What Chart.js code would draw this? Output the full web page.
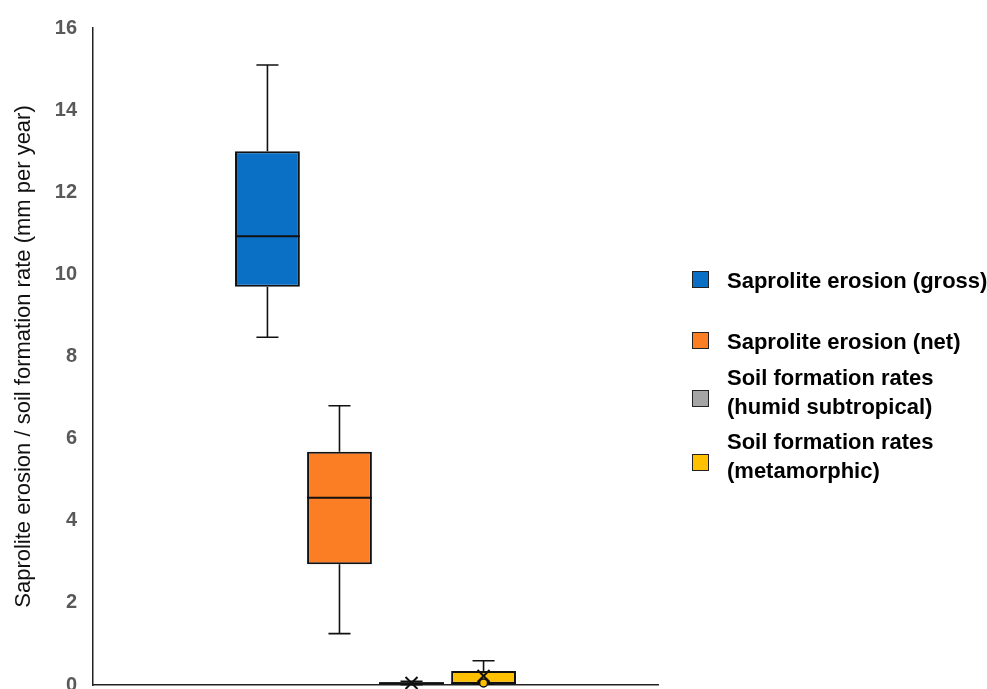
<!DOCTYPE html>
<html>
<head>
<meta charset="utf-8">
<script src="https://cdn.jsdelivr.net/npm/chart.js@4.4.1/dist/chart.umd.min.js"></script>
<style>
	html, body { margin: 0; padding: 0; background: #fff; overflow: hidden; }
	#wrap { position: relative; width: 987px; height: 689px; overflow: hidden; }
	#box { position: absolute; left: 0; top: 0; width: 987px; height: 713px; }
	.entry { position: absolute; left: 692px; font: bold 22px "Liberation Sans", Arial, sans-serif; color: #000; line-height: 28.5px; }
	.swatch { position: absolute; left: 0; width: 15px; height: 15px; border: 1.5px solid #222; }
	.text { position: absolute; left: 35px; white-space: nowrap; }
</style>
</head>
<body>
<div id="wrap">
	<div id="box"><canvas id="chart"></canvas></div>
	<div id="legend"></div>
</div>
<script>
// DATA ====================================================

const seriesLabels = [
	["Saprolite erosion (gross)"],
	["Saprolite erosion (net)"],
	["Soil formation rates", "(humid subtropical)"],
	["Soil formation rates", "(metamorphic)"],
];
const seriesColours = ["#0a70c6", "#fb7e24", "#a5a5a5", "#ffc000"];

const whiskerLow = [8.47, 1.25, 0.01, 0.02];
const quartile1 = [9.7, 2.94, 0.02, 0.03];
const medians = [10.93, 4.56, 0.04, 0.04];
const quartile3 = [13.0, 5.68, 0.07, 0.34];
const whiskerHigh = [15.1, 6.8, 0.09, 0.59];
const means = [null, null, 0.05, 0.22];
const innerPoints = [[], [], [], [0.05]];

const yMin = 0;
const yMax = 16;
const yStep = 2;
const yTitle = "Saprolite erosion / soil formation rate (mm per year)";

// legend row tops (layout only)
const legendTops = [267, 328, 364, 428];

// PLUGIN ==================================================

const boxDetails = {
	id: "boxDetails",
	afterDatasetsDraw(chart) {
		const ctx = chart.ctx;
		const y = chart.scales.y;
		ctx.save();
		ctx.strokeStyle = "#111";
		chart.data.datasets.forEach((ds, i) => {
			const el = chart.getDatasetMeta(i).data[0];
			const x = el.x;
			const w = el.width;
			const cap = w * 0.34;
			// whiskers
			ctx.lineWidth = 1.6;
			ctx.beginPath();
			ctx.moveTo(x, y.getPixelForValue(quartile3[i]));
			ctx.lineTo(x, y.getPixelForValue(whiskerHigh[i]));
			ctx.moveTo(x - cap / 2, y.getPixelForValue(whiskerHigh[i]));
			ctx.lineTo(x + cap / 2, y.getPixelForValue(whiskerHigh[i]));
			ctx.moveTo(x, y.getPixelForValue(quartile1[i]));
			ctx.lineTo(x, y.getPixelForValue(whiskerLow[i]));
			ctx.moveTo(x - cap / 2, y.getPixelForValue(whiskerLow[i]));
			ctx.lineTo(x + cap / 2, y.getPixelForValue(whiskerLow[i]));
			ctx.stroke();
			// median
			ctx.lineWidth = 2;
			ctx.beginPath();
			ctx.moveTo(x - w / 2, y.getPixelForValue(medians[i]));
			ctx.lineTo(x + w / 2, y.getPixelForValue(medians[i]));
			ctx.stroke();
			// mean marker
			if (means[i] !== null) {
				const my = y.getPixelForValue(means[i]);
				const s = 6;
				ctx.lineWidth = 2;
				ctx.beginPath();
				ctx.moveTo(x - s, my - s);
				ctx.lineTo(x + s, my + s);
				ctx.moveTo(x + s, my - s);
				ctx.lineTo(x - s, my + s);
				ctx.stroke();
			}
			// inner points
			innerPoints[i].forEach((v) => {
				ctx.fillStyle = seriesColours[i];
				ctx.lineWidth = 1.5;
				ctx.beginPath();
				ctx.arc(x, y.getPixelForValue(v), 4, 0, Math.PI * 2);
				ctx.fill();
				ctx.stroke();
			});
		});
		ctx.restore();
	},
};

// CHART ===================================================

const datasets = seriesLabels.map((label, i) => ({
	label: label.join(" "),
	data: [[quartile1[i], quartile3[i]]],
	backgroundColor: seriesColours[i],
	borderColor: "#111",
	borderWidth: 2,
	borderSkipped: false,
	categoryPercentage: 0.51,
	barPercentage: 0.9,
}));

new Chart(document.getElementById("chart"), {
	type: "bar",
	data: { labels: [""], datasets: datasets },
	plugins: [boxDetails],
	options: {
		responsive: true,
		maintainAspectRatio: false,
		animation: false,
		layout: { padding: { left: 8, right: 329, top: 13, bottom: 4 } },
		plugins: { legend: { display: false }, tooltip: { enabled: false } },
		scales: {
			x: {
				grid: { display: false, drawTicks: false },
				border: { display: true, color: "#222", width: 1.5 },
				ticks: { display: false },
			},
			y: {
				min: yMin,
				max: yMax,
				grid: { display: false, drawTicks: false },
				border: { display: true, color: "#222", width: 1.5 },
				ticks: {
					stepSize: yStep,
					padding: 16,
					color: "#595959",
					font: { family: "'Liberation Sans', Arial, sans-serif", size: 20, weight: "bold" },
				},
				title: {
					display: true,
					text: yTitle,
					color: "#111",
					padding: { top: 3, bottom: 20 },
					font: { family: "'Liberation Sans', Arial, sans-serif", size: 22 },
				},
				afterFit(scale) {
					scale.width = 85;
				},
			},
		},
	},
});

// LEGEND ==================================================

const legend = document.getElementById("legend");
seriesLabels.forEach((lines, i) => {
	const h = lines.length * 28.5;
	const html = `
<div class="entry" style="top:${legendTops[i]}px;height:${h}px;">
	<div class="swatch" style="top:${lines.length > 1 ? 26 : 4}px;background:${seriesColours[i]};"></div>
	<div class="text">${lines.join("<br>")}</div>
</div>`;
	legend.insertAdjacentHTML("beforeend", html);
});
</script>
</body>
</html>
